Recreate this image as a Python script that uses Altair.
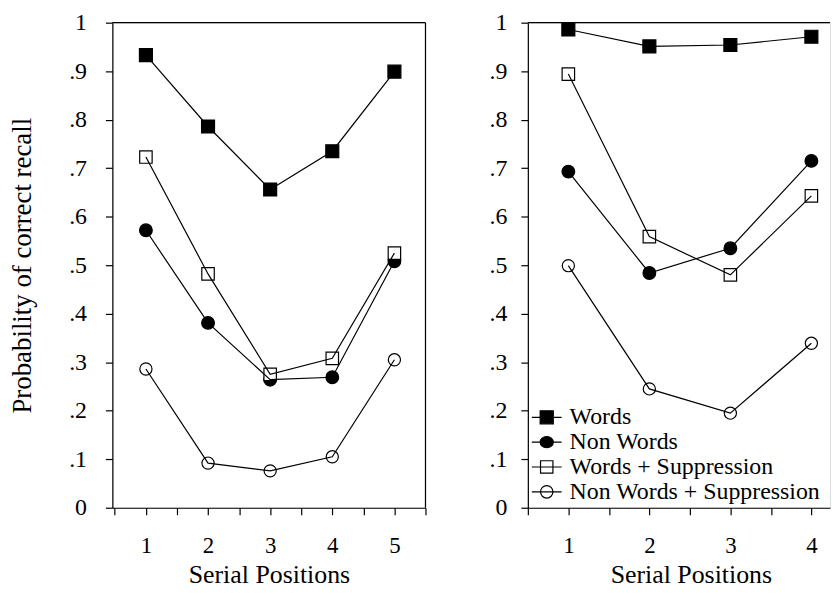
import altair as alt
import pandas as pd

series = ["Words", "Non Words", "Words + Suppression", "Non Words + Suppression"]

left_pos = [1, 2, 3, 4, 5]
left_words = [0.933, 0.786, 0.656, 0.735, 0.899]
left_nonwords = [0.572, 0.381, 0.264, 0.269, 0.508]
left_words_sup = [0.723, 0.482, 0.275, 0.308, 0.525]
left_nonwords_sup = [0.286, 0.092, 0.076, 0.105, 0.305]

right_pos = [1, 2, 3, 4]
right_words = [0.986, 0.951, 0.954, 0.971]
right_nonwords = [0.693, 0.484, 0.535, 0.715]
right_words_sup = [0.894, 0.559, 0.480, 0.643]
right_nonwords_sup = [0.499, 0.245, 0.195, 0.339]

y_ticks = [0, 0.1, 0.2, 0.3, 0.4, 0.5, 0.6, 0.7, 0.8, 0.9, 1.0]
left_x_ticks = [0.5, 1, 1.5, 2, 2.5, 3, 3.5, 4, 4.5, 5, 5.5]
right_x_ticks = [0.5, 1, 1.5, 2, 2.5, 3, 3.5, 4]


def long_df(pos, cols):
    rows = []
    for name, vals in zip(series, cols):
        for p, v in zip(pos, vals):
            rows.append({"pos": p, "value": v, "series": name})
    return pd.DataFrame(rows)


left_df = long_df(left_pos, [left_words, left_nonwords, left_words_sup, left_nonwords_sup])
right_df = long_df(right_pos, [right_words, right_nonwords, right_words_sup, right_nonwords_sup])

FONT = "Liberation Serif"
y_label_expr = "datum.value == 0 ? '0' : (datum.value == 1 ? '1' : '.' + round(datum.value * 10))"
x_label_expr = "datum.value % 1 == 0 ? format(datum.value, 'd') : ''"

shape_range = ["square", "circle", "square", "circle"]
fill_range = ["black", "black", "white", "white"]
stroke_range = ["black", "black", "black", "black"]
size_range = [170, 150, 150, 170]

legend_shapes = [
    "M-1.25,0H1.25M-0.55,-0.55H0.55V0.55H-0.55Z",
    "M-1.25,0H1.25M0.55,0A0.55,0.47,0,1,1,-0.55,0A0.55,0.47,0,1,1,0.55,0Z",
    "M-1.25,0H1.25M-0.52,-0.52H0.52V0.52H-0.52Z",
    "M-1.25,0H1.25M0.52,0A0.52,0.52,0,1,1,-0.52,0A0.52,0.52,0,1,1,0.52,0Z",
]


def x_enc(domain, ticks, title_x=None):
    kw = dict(
        values=ticks, labelExpr=x_label_expr, tickSize=7, labelPadding=20,
        labelFontSize=23, labelFont=FONT, labelOverlap=False, labelFlush=False,
        title="Serial Positions", titleFontSize=26, titleFont=FONT, titleFontWeight="normal",
        titlePadding=4, grid=False,
    )
    if title_x is not None:
        kw["titleX"] = title_x
    return alt.X("pos:Q", scale=alt.Scale(domain=domain, nice=False, zero=False),
                 axis=alt.Axis(**kw))


def y_enc(left):
    if left:
        ax = alt.Axis(values=y_ticks, labelExpr=y_label_expr, tickSize=7, labelPadding=19,
                      labelFontSize=24, labelFont=FONT, minExtent=40, maxExtent=40,
                      title="Probability of correct recall", titleFontSize=27, titleFont=FONT,
                      titleFontWeight="normal", titlePadding=36, grid=False)
    else:
        ax = alt.Axis(values=y_ticks, labelExpr=y_label_expr, tickSize=7, labelPadding=14,
                      labelFontSize=24, labelFont=FONT, minExtent=45, maxExtent=45,
                      title=None, grid=False)
    return alt.Y("value:Q", scale=alt.Scale(domain=[0, 1], nice=False), axis=ax)


def legend_props():
    return alt.Legend(
        orient="none", legendX=6, legendY=384, title=None,
        labelFontSize=24, labelFont=FONT, labelColor="black", labelLimit=0,
        symbolSize=576, symbolStrokeWidth=1.2, symbolStrokeColor="black",
        symbolOpacity=1, labelOffset=10, rowPadding=-1, padding=0,
    )


def panel(df, domain, ticks, left, width, title_x=None):
    X = x_enc(domain, ticks, title_x)
    Y = y_enc(left)
    pts = alt.Chart(df).mark_point(filled=True, stroke="black", strokeWidth=1.2, opacity=1).encode(
        x=X, y=Y,
        shape=alt.Shape("series:N", scale=alt.Scale(domain=series, range=shape_range), legend=None),
        fill=alt.Fill("series:N", scale=alt.Scale(domain=series, range=fill_range), legend=None),
        size=alt.Size("series:N", scale=alt.Scale(domain=series, range=size_range), legend=None),
    )
    lines = alt.Chart(df).mark_line(color="black", strokeWidth=1.2).encode(
        x=X, y=Y, detail="series:N"
    )
    top_df = pd.DataFrame({"value": [1.0]})
    top = alt.Chart(top_df).mark_rule(color="black", strokeWidth=1.2).encode(y=Y)
    layers = [pts, lines, top]
    if left:
        edge_df = pd.DataFrame({"pos": [domain[1]]})
        right_edge = alt.Chart(edge_df).mark_rule(color="black", strokeWidth=1.2).encode(x=X)
        layers.append(right_edge)
    else:
        leg = alt.Chart(df).transform_filter("false").mark_point(
            filled=True, strokeWidth=1.2, opacity=1).encode(
            x=X, y=Y,
            shape=alt.Shape("series:N", scale=alt.Scale(domain=series, range=legend_shapes),
                            legend=legend_props()),
            fill=alt.Fill("series:N", scale=alt.Scale(domain=series, range=fill_range),
                          legend=legend_props()),
            stroke=alt.Stroke("series:N", scale=alt.Scale(domain=series, range=stroke_range),
                              legend=legend_props()),
        )
        layers.append(leg)
    ch = alt.layer(*layers).properties(width=width, height=488)
    if not left:
        ch = ch.resolve_scale(shape="independent", fill="independent", stroke="independent")
    return ch


left = panel(left_df, [0.46, 5.5], left_x_ticks, True, 315)
right = panel(right_df, [0.5, 4.23], right_x_ticks, False, 304, title_x=164)

chart = alt.hconcat(left, right, spacing=55).properties(
    padding={"left": 0, "right": 0, "top": 0, "bottom": 0}
).configure_view(stroke=None).configure(font=FONT).configure_axis(
    domainColor="black", tickColor="black", labelColor="black", titleColor="black",
    domainWidth=1.2, tickWidth=1.2, labelFont=FONT, titleFont=FONT
)

chart.save("out.html", embed_options={"renderer": "svg", "actions": False})
